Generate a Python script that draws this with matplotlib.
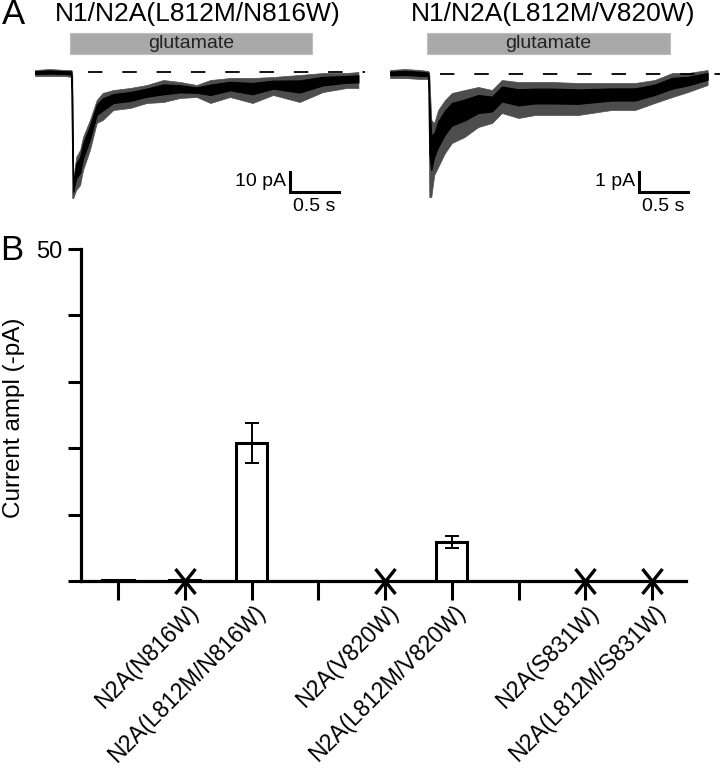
import matplotlib.pyplot as plt
from matplotlib.patches import Rectangle
from matplotlib.path import Path
from matplotlib.transforms import ScaledTranslation

plt.rcParams['font.family'] = ['Liberation Sans', 'DejaVu Sans']

# ---- panel A: traces (envelope of the noisy recording)
# N1/N2A(L812M/N816W), time in s, current in pA
t_left = [0.00, 0.15, 0.31, 0.37, 0.38, 0.39, 0.42, 0.46, 0.49, 0.56, 0.63, 0.69,
          0.80, 0.97, 1.14, 1.31, 1.48, 1.65, 1.79, 1.99, 2.22, 2.43, 2.70, 2.94,
          3.18, 3.30]
hi_left = [1.0, 1.5, 1.0, 1.0, 0.0, -54, -42.5, -39, -32.5, -24, -14, -10.5,
           -9, -8, -6.5, -4, -5, -6.5, -4, -3, -3, -2.5, -1.5, -0.5, -0.5, 0.0]
lo_left = [-2.0, -2.0, -2.0, -2.5, -63, -63, -59, -56.5, -49, -39, -25.5, -24,
           -19, -18, -15.5, -15, -13, -12.5, -15.5, -12.5, -15.5, -11.5, -15, -10,
           -8, -8]

# N1/N2A(L812M/V820W)
t_right = [-0.05, 0.10, 0.26, 0.34, 0.35, 0.37, 0.40, 0.44, 0.51, 0.58, 0.71, 0.85,
           0.99, 1.09, 1.26, 1.43, 1.60, 1.87, 2.21, 2.45, 2.65, 2.83, 2.99, 3.19]
hi_right = [0.2, 0.25, 0.2, 0.15, 0.0, -2.3, -2.45, -1.8, -1.3, -0.95, -0.8, -0.65,
            -0.8, -0.3, -0.4, -0.4, -0.4, -0.45, -0.45, -0.45, -0.3, 0.05, 0.05, 0.2]
lo_right = [-0.2, -0.2, -0.25, -0.25, -6.15, -6.15, -5.05, -4.65, -3.95, -3.45, -3.15, -2.65,
            -2.45, -1.95, -2.2, -2.05, -2.05, -2.05, -1.8, -1.8, -1.45, -1.15, -0.9, -0.55]

# ---- panel B: bar chart
positions = [1, 2, 3, 4, 5, 6, 7, 8, 9]
tick_labels = ['', 'N2A(N816W)', 'N2A(L812M/N816W)', '', 'N2A(V820W)',
               'N2A(L812M/V820W)', '', 'N2A(S831W)', 'N2A(L812M/S831W)']
bar_pos = [1, 2, 3, 6]
bar_vals = [0.15, 0.15, 20.8, 5.9]
bar_err = [0, 0, 3.0, 0.9]
no_current = [2, 5, 8, 9]

W, H = 720, 770
fig = plt.figure(figsize=(W / 100, H / 100), dpi=100)


def px_axes(x0, y0, x1, y1):
    # axes from pixel box (top-left origin)
    return fig.add_axes([x0 / W, 1 - y1 / H, (x1 - x0) / W, (y1 - y0) / H])


def trace_panel(box, xlim, ylim, t, hi, lo, bar, dash_from, sb_x, sb_y, sb_h, sb_label, title, title_x):
    ax = px_axes(*box)
    ax.set_xlim(*xlim)
    ax.set_ylim(*ylim)
    ax.axis('off')
    # outer envelope (spikes) in grey, dense core in black
    ax.fill_between(t, lo, hi, color='#4d4d4d', lw=0.5)
    core_hi = [h - 0.2 * (h - l) for h, l in zip(hi, lo)]
    core_lo = [l + 0.35 * (h - l) for h, l in zip(hi, lo)]
    ax.fill_between(t, core_lo, core_hi, color='black', lw=0.8)
    ax.plot([dash_from, xlim[1]], [0, 0], color='black', lw=1.3,
            linestyle=(0, (8, 11)))
    ax.add_patch(Rectangle((bar[0], bar[2]), bar[1] - bar[0], bar[3] - bar[2],
                           facecolor='#a9a9a9', edgecolor='#bdbdbd', lw=0.8))
    ax.text((bar[0] + bar[1]) / 2, (bar[2] + bar[3]) / 2, 'glutamate',
            ha='center', va='center', fontsize=14, color='#222222')
    ax.plot([sb_x, sb_x, sb_x + 0.5], [sb_y + sb_h, sb_y, sb_y],
            color='black', lw=2.2, solid_joinstyle='miter')
    ax.text(sb_x - 0.04, sb_y + sb_h / 2, sb_label, ha='right', va='center', fontsize=14)
    ax.text(sb_x + 0.25, sb_y - sb_h * 0.3, '0.5 s', ha='center', va='top', fontsize=14)
    fig.text(title_x / W, 1 - 14 / H, title, ha='center', va='center', fontsize=19)
    return ax


trace_panel((30, 25, 365, 215), ((30 - 35) / 98, (365 - 35) / 98), (-71.5, 23.5),
            t_left, hi_left, lo_left, (0.357, 2.827, 9.0, 19.5), 0.54,
            2.602, -60, 10, '10 pA', 'N1/N2A(L812M/N816W)', 198)
trace_panel((380, 25, 720, 215), ((380 - 395) / 98, (720 - 395) / 98), (-7.05, 2.45),
            t_right, hi_right, lo_right, (0.327, 2.806, 1.0, 2.05), 0.46,
            2.490, -5.9, 1, '1 pA', 'N1/N2A(L812M/V820W)', 553)

fig.text(2 / W, 1 - 15 / H, 'A', ha='left', va='center', fontsize=25)
fig.text(0 / W, 1 - 250 / H, 'B', ha='left', va='center', fontsize=25)

# ---- panel B
ax = px_axes(81, 249, 686, 581)
step = 66.75
ax.set_xlim(1 - 37 / step, 9 + 34 / step)
ax.set_ylim(0, 50)
ax.bar(bar_pos, bar_vals, width=0.47, facecolor='white', edgecolor='black',
       linewidth=2.2, zorder=3)
ax.errorbar(bar_pos[2:], bar_vals[2:], yerr=bar_err[2:], fmt='none', ecolor='black',
            elinewidth=1.4, capsize=5, capthick=1.4, zorder=4)
x_mark = Path([(-0.4, -0.5), (0.4, 0.5), (-0.4, 0.5), (0.4, -0.5)],
              [Path.MOVETO, Path.LINETO, Path.MOVETO, Path.LINETO])
ax.plot(no_current, [0] * len(no_current), linestyle='none', marker=x_mark,
        markersize=18, markeredgewidth=2.4, color='black', zorder=5, clip_on=False)

for s in ['top', 'right']:
    ax.spines[s].set_visible(False)
for s in ['left', 'bottom']:
    ax.spines[s].set_linewidth(2.3)
ax.set_yticks([0, 10, 20, 30, 40, 50])
ax.set_yticklabels(['', '', '', '', '', '50'], fontsize=17)
ax.tick_params(axis='y', length=9.5, width=2.2, pad=4)
ax.set_xticks(positions)
ax.set_xticklabels(tick_labels, rotation=45, ha='right', rotation_mode='anchor',
                   fontsize=16.5)
ax.tick_params(axis='x', length=13.5, width=2.2, pad=1)
offset = ScaledTranslation(2 / 100, 0, fig.dpi_scale_trans)
for lab in ax.get_xticklabels():
    lab.set_transform(lab.get_transform() + offset)
fig.text(14 / W, 1 - 418 / H, 'Current ampl (-pA)', rotation=90, ha='center',
         va='center', fontsize=17.5)

fig.savefig('out.png', dpi=100)
